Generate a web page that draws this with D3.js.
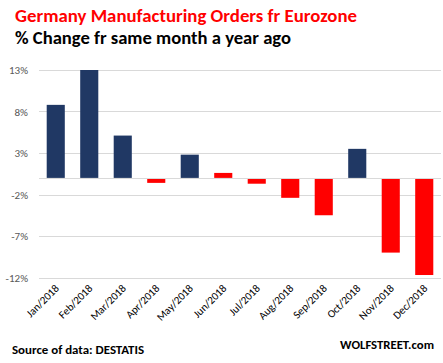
<!DOCTYPE html>
<html><head><meta charset="utf-8">
<script src="https://cdn.jsdelivr.net/npm/d3@7"></script>
<style>body{margin:0;background:#fff}svg{display:block}</style>
</head><body>
<script>
const categories = ["Jan/2018","Feb/2018","Mar/2018","Apr/2018","May/2018","Jun/2018","Jul/2018","Aug/2018","Sep/2018","Oct/2018","Nov/2018","Dec/2018"];
const values = [8.8, 13.0, 5.1, -0.6, 2.8, 0.6, -0.7, -2.4, -4.5, 3.5, -9.0, -11.7];
const groups = ["blue","blue","blue","red","blue","red","red","red","red","blue","red","red"];
const yTicks = [13, 8, 3, -2, -7, -12];

const W = 443, H = 363;
const svg = d3.select("body").append("svg").attr("width", W).attr("height", H);
const font = "Carlito, 'Open Sans', 'Liberation Sans', sans-serif";
const color = d3.scaleOrdinal().domain(["blue","red"]).range(["#203864","#ff0000"]);

const x = d3.scaleBand().domain(categories).range([39, 441]).paddingInner(0.46).paddingOuter(0.23);
const y = d3.scaleLinear().domain([-12, 13]).range([277.5, 70]);

// gridlines
svg.append("g").selectAll("line").data(yTicks).join("line")
  .attr("x1", 39).attr("x2", 441)
  .attr("y1", d => Math.round(y(d)) + 0.5).attr("y2", d => Math.round(y(d)) + 0.5)
  .attr("stroke", "#d9d9d9").attr("stroke-width", 1);

// y labels
svg.append("g").selectAll("text").data(yTicks).join("text")
  .attr("x", 28).attr("y", d => y(d) + 4)
  .attr("text-anchor", "end").attr("font-family", font).attr("font-size", 11)
  .attr("fill", "#595959").text(d => d + "%");

// bars
svg.append("g").selectAll("rect").data(values).join("rect")
  .attr("x", (d, i) => x(categories[i]))
  .attr("width", x.bandwidth())
  .attr("y", d => d >= 0 ? y(d) : y(0) + 1)
  .attr("height", d => d >= 0 ? y(0) - y(d) : y(d) - y(0) - 1)
  .attr("fill", (d, i) => color(groups[i]));

// zero line
svg.append("line").attr("x1", 39).attr("x2", 441)
  .attr("y1", Math.round(y(0)) + 0.5).attr("y2", Math.round(y(0)) + 0.5)
  .attr("stroke", "#d9d9d9").attr("stroke-width", 1);

// x labels
svg.append("g").selectAll("text").data(categories).join("text")
  .attr("transform", d => `translate(${x(d) + x.bandwidth()/2 + 4},${289}) rotate(-45)`)
  .attr("text-anchor", "end").attr("font-family", font).attr("font-size", 11)
  .attr("fill", "#000").text(d => d);

// titles
svg.append("text").attr("x", 15).attr("y", 22).attr("font-family", font).attr("font-weight", "bold")
  .attr("font-size", 17).attr("fill", "#ff0000")
  .attr("textLength", 342).attr("lengthAdjust", "spacingAndGlyphs")
  .text("Germany Manufacturing Orders fr Eurozone");
svg.append("text").attr("x", 15).attr("y", 44).attr("font-family", font).attr("font-weight", "bold")
  .attr("font-size", 17).attr("fill", "#000")
  .attr("textLength", 276).attr("lengthAdjust", "spacingAndGlyphs")
  .text("% Change fr same month a year ago");

// footer
svg.append("text").attr("x", 12).attr("y", 354).attr("font-family", font).attr("font-weight", "bold")
  .attr("font-size", 12).attr("fill", "#000")
  .attr("textLength", 132).attr("lengthAdjust", "spacingAndGlyphs")
  .text("Source of data: DESTATIS");
svg.append("text").attr("x", 434).attr("y", 349).attr("text-anchor", "end").attr("font-family", font).attr("font-weight", "bold")
  .attr("font-size", 12).attr("fill", "#000")
  .attr("textLength", 94).attr("lengthAdjust", "spacingAndGlyphs")
  .text("WOLFSTREET.com");
</script>
</body></html>
